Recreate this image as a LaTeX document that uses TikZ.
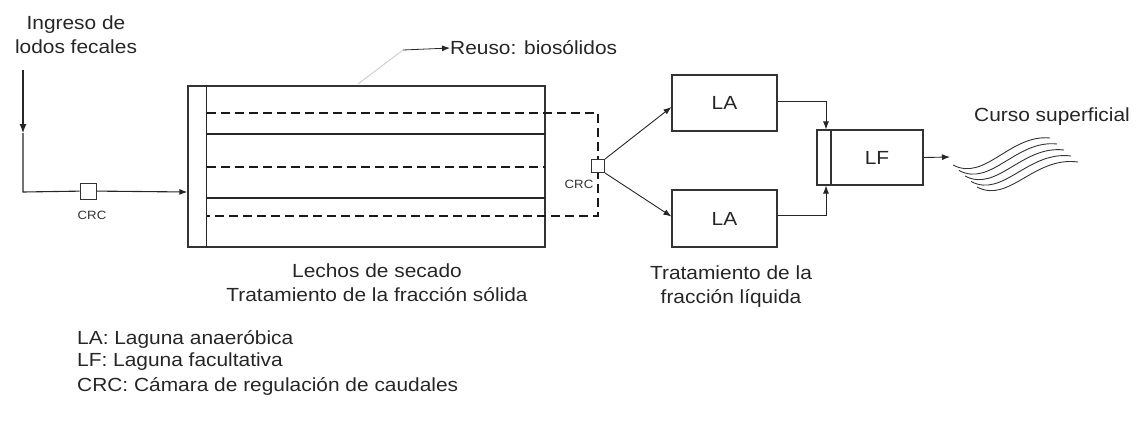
\documentclass[tikz,border=0pt]{standalone}
\usepackage{fontspec}
\setmainfont{Liberation Sans}[FakeStretch=1.1]
\usetikzlibrary{arrows.meta,calc}
\begin{document}
\begin{tikzpicture}[x=1pt,y=-1pt,
  ln/.style={line width=1.1pt,draw=black!85},
  tip/.style={-{Latex[length=8pt,width=6pt]}},
  boxn/.style={draw=black!80,line width=1.1pt,rectangle,inner sep=0pt},
  crcbox/.style={draw=black!80,line width=0.9pt,rectangle,minimum width=14pt,minimum height=14pt,inner sep=0pt,fill=white},
  txt/.style={font=\fontsize{19}{24}\selectfont,text=black!85,inner sep=0pt,align=center},
  small/.style={font=\fontsize{12}{14}\selectfont,text=black!80,inner sep=0pt},
  dsh/.style={line width=1.6pt,draw=black!90,dash pattern=on 9pt off 5pt},
  wave/.style={line width=0.9pt,draw=black!80}
]
\useasboundingbox (0,0) rectangle (1144,437);

% input
\node[txt] (ingreso) at (76,35) {Ingreso de\\lodos fecales};
\coordinate (in) at (23,70);
\coordinate (inmid) at (23,133);
\coordinate (bend) at (23,192);
\node[crcbox,minimum width=16pt,minimum height=16pt] (crc1) at (88,191) {};
\node[small] (crc1lbl) at (92,215) {CRC};

% drying beds
\node[boxn,minimum width=357pt,minimum height=161pt] (lechos) at (366.5,166.5) {};
\draw[ln] ($(lechos.north west)+(19,0)$) -- ($(lechos.south west)+(19,0)$);
\draw[ln,line width=1.3pt] (207,134) -- (545,134);
\draw[ln,line width=1.3pt] (207,198) -- (545,198);
\draw[dsh] (207,113) -- (598,113) -- (598,216) -- (207,216);
\draw[dsh] (207,167) -- (545,167);
\node[crcbox,minimum width=13pt,minimum height=13pt] (crc2) at (598,166) {};
\node[small] (crc2lbl) at (579,184) {CRC};

\draw[ln,-{Latex[length=9pt,width=7pt]}] (in) -- (inmid);
\draw[ln] (inmid) -- (bend) -- (crc1);
\draw[ln,tip] (crc1) -- (bend -| lechos.west);

% reuse
\coordinate (r0) at (358,84);
\coordinate (r1) at (403,50);
\node[txt,anchor=west] (reuso) at (450,48) {Reuso: biosólidos};
\draw[line width=1pt,draw=black!18] (r0) -- (r1);
\draw[ln,line width=0.8pt,tip] (r1) -- (reuso.west);

\node[txt] (lechoslbl) at (377,283) {Lechos de secado\\Tratamiento de la fracción sólida};

% anaerobic lagoons
\node[boxn,minimum width=105pt,minimum height=56pt] (la1) at (724.5,103) {};
\node[txt] at (la1) {LA};
\node[boxn,minimum width=105pt,minimum height=57pt] (la2) at (724.5,218.5) {};
\node[txt] at (la2) {LA};
\draw[ln,line width=0.9pt,tip] (crc2.north east) -- ($(la1.west)+(0,4)$);
\draw[ln,line width=0.9pt,tip] (crc2.south east) -- ($(la2.west)+(0,-2)$);

\node[txt] (liqlbl) at (731,287) {Tratamiento de la\\fracción líquida};

% facultative lagoon
\node[boxn,minimum width=14pt,minimum height=55pt] (lfin) at (824,157.5) {};
\node[boxn,minimum width=92pt,minimum height=55pt] (lf) at (877,157.5) {};
\node[txt] at (lf) {LF};
\draw[ln,line width=0.9pt,tip] (la1.east |- 0,101) -| ($(lfin.north)+(2,0)$);
\draw[ln,line width=0.9pt,tip] (la2.east |- 0,215) -| ($(lfin.south)+(2,0)$);

% outlet
\coordinate (out) at (950,157);
\draw[ln,line width=0.9pt,tip] (lf.east) -- (out);
\node[txt] (curso) at (1052,117) {Curso superficial};
\foreach \k in {0,...,4}{
  \draw[wave] ({953+6*\k},{165+5.5*\k}) .. controls ({985+6*\k},{182+5.5*\k}) and ({1010+6*\k},{134+5.5*\k}) .. ({1050+7*\k},{138+6*\k});
}

% legend
\node[txt,anchor=west] (leg1) at (77,339) {LA: Laguna anaeróbica};
\node[txt,anchor=west] (leg2) at (77,362) {LF: Laguna facultativa};
\node[txt,anchor=west] (leg3) at (77,386) {CRC: Cámara de regulación de caudales};
\end{tikzpicture}
\end{document}
